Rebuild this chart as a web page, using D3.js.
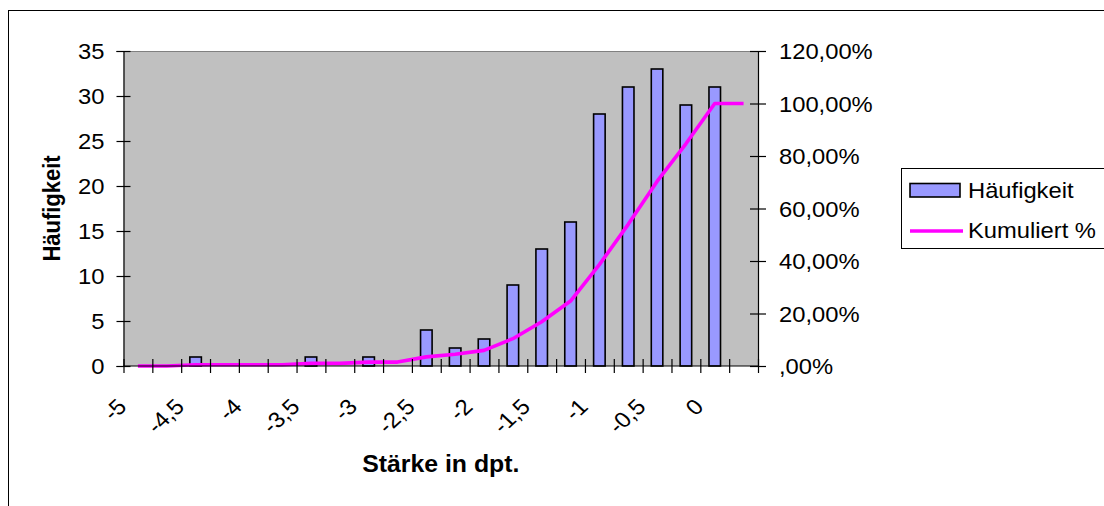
<!DOCTYPE html>
<html>
<head>
<meta charset="utf-8">
<script src="https://cdn.jsdelivr.net/npm/d3@7"></script>
<style>
  html, body { margin: 0; padding: 0; background: #fff; }
  svg { display: block; }
  text { font-family: "Liberation Sans", Arial, sans-serif; fill: #000; }
</style>
</head>
<body>
<script>
// ---- data ----
const categories = [-5, -4.75, -4.5, -4.25, -4, -3.75, -3.5, -3.25, -3, -2.75, -2.5, -2.25,
                    -2, -1.75, -1.5, -1.25, -1, -0.75, -0.5, -0.25, 0, 0.25];
const haeufigkeit = [0, 0, 1, 0, 0, 0, 1, 0, 1, 0, 4, 2, 3, 9, 13, 16, 28, 31, 33, 29, 31, 0];
const kumuliertPct = [0, 0, 0.50, 0.50, 0.50, 0.50, 0.99, 0.99, 1.49, 1.49, 3.47, 4.46,
                      5.94, 10.40, 16.83, 24.75, 38.61, 53.96, 70.30, 84.65, 100, 100];
const xTickLabels = ["-5", "-4,5", "-4", "-3,5", "-3", "-2,5", "-2", "-1,5", "-1", "-0,5", "0"];
const leftTicks = [0, 5, 10, 15, 20, 25, 30, 35];
const rightTicks = [0, 20, 40, 60, 80, 100, 120];
const rightTickLabels = [",00%", "20,00%", "40,00%", "60,00%", "80,00%", "100,00%", "120,00%"];
const seriesNames = ["Häufigkeit", "Kumuliert %"];

// ---- layout ----
const W = 1104, H = 506;
const plot = { left: 123.5, right: 758, top: 51, bottom: 366 };
const FS = 22;
const SX = 1.08; // horizontal stretch of the source picture's text

const svg = d3.select("body").append("svg").attr("width", W).attr("height", H);

// outer chart border
svg.append("rect").attr("x", 8.5).attr("y", 10.5).attr("width", W).attr("height", H)
  .attr("fill", "none").attr("stroke", "#000").attr("stroke-width", 1);

const x = d3.scaleBand().domain(categories).range([plot.left, plot.right]).paddingInner(0).paddingOuter(0);
const yL = d3.scaleLinear().domain([0, 35]).range([plot.bottom, plot.top]);
const yR = d3.scaleLinear().domain([0, 120]).range([plot.bottom, plot.top]);

// plot area
svg.append("rect").attr("x", plot.left).attr("y", plot.top)
  .attr("width", plot.right - plot.left).attr("height", plot.bottom - plot.top)
  .attr("fill", "#C0C0C0");
svg.append("line").attr("x1", plot.left).attr("x2", plot.right)
  .attr("y1", plot.top + 0.5).attr("y2", plot.top + 0.5)
  .attr("stroke", "#808080").attr("stroke-width", 1);

// bars
const bw = x.bandwidth() / 2.5;
svg.append("g").selectAll("rect").data(categories).join("rect")
  .attr("x", (d) => x(d) + (x.bandwidth() - bw) / 2)
  .attr("y", (d, i) => yL(haeufigkeit[i]))
  .attr("width", bw)
  .attr("height", (d, i) => yL(0) - yL(haeufigkeit[i]))
  .attr("fill", "#9999FF").attr("stroke", "#000").attr("stroke-width", 1.6)
  .style("display", (d, i) => haeufigkeit[i] > 0 ? null : "none");

// cumulative line
const line = d3.line()
  .x((d, i) => x(categories[i]) + x.bandwidth() / 2)
  .y((d) => yR(d));
svg.append("path").datum(kumuliertPct).attr("d", line)
  .attr("fill", "none").attr("stroke", "#FF00FF").attr("stroke-width", 3.6)
  .attr("stroke-linejoin", "round");

// left axis
const gL = svg.append("g").attr("transform", `translate(${plot.left},0)`)
  .call(d3.axisLeft(yL).tickValues(leftTicks).tickSize(7).tickFormat(d3.format("d")));
// right axis
const gR = svg.append("g").attr("transform", `translate(${plot.right},0)`)
  .call(d3.axisRight(yR).tickValues(rightTicks).tickSize(8)
    .tickFormat((d, i) => rightTickLabels[i]));
// bottom axis (ticks at category boundaries)
const boundaries = d3.range(categories.length + 1);
const xb = d3.scaleLinear().domain([0, categories.length]).range([plot.left, plot.right]);
const gB = svg.append("g").attr("transform", `translate(0,${plot.bottom})`)
  .call(d3.axisBottom(xb).tickValues(boundaries).tickSize(7).tickFormat(""));

[gL, gR, gB].forEach((g) => {
  g.attr("font-family", null).attr("font-size", null);
  g.select(".domain").attr("stroke", "#000").attr("stroke-width", 1.2);
  g.selectAll(".tick line").attr("stroke", "#000").attr("stroke-width", 1.2);
});
gB.select(".domain").attr("d", `M${plot.left},0H${plot.right}`);
// ticks cross the axis
gL.selectAll(".tick line").attr("x1", 7);
gR.selectAll(".tick line").attr("x1", -8);
gB.selectAll(".tick line").attr("y1", -7);

gL.selectAll(".tick text").attr("font-size", FS).attr("x", 0).attr("dy", "0.35em")
  .attr("transform", `translate(-19,0) scale(${SX},1)`);
gR.selectAll(".tick text").attr("font-size", FS).attr("x", 0).attr("dy", "0.35em")
  .attr("transform", `translate(21,0) scale(${SX},1)`);

// rotated x labels, every second category
svg.append("g").selectAll("text").data(xTickLabels).join("text")
  .attr("transform", (d, i) => {
    const cx = x(categories[i * 2]) + x.bandwidth() / 2 - 10;
    return `translate(${cx},${plot.bottom + 42}) scale(${SX},1) rotate(-45)`;
  })
  .attr("text-anchor", "end").attr("font-size", FS).text((d) => d);

// axis titles
svg.append("text")
  .attr("transform", `translate(${(plot.left + plot.right) / 2},472) scale(${SX},1)`)
  .attr("text-anchor", "middle").attr("font-size", 23).attr("font-weight", "bold")
  .text("Stärke in dpt.");
svg.append("text").attr("transform", `translate(60,${(plot.top + plot.bottom) / 2}) scale(${SX},1) rotate(-90)`)
  .attr("text-anchor", "middle").attr("font-size", 22).attr("font-weight", "bold")
  .text("Häufigkeit");

// legend
const lg = svg.append("g");
lg.append("rect").attr("x", 901.5).attr("y", 168.5).attr("width", 300).attr("height", 80)
  .attr("fill", "#fff").attr("stroke", "#000").attr("stroke-width", 1);
lg.append("rect").attr("x", 910).attr("y", 183.5).attr("width", 50).attr("height", 13.5)
  .attr("fill", "#9999FF").attr("stroke", "#000").attr("stroke-width", 1.6);
lg.append("line").attr("x1", 910).attr("x2", 963).attr("y1", 231).attr("y2", 231)
  .attr("stroke", "#FF00FF").attr("stroke-width", 3.6);
lg.selectAll("text.lt").data(seriesNames).join("text").attr("class", "lt")
  .attr("transform", (d, i) => `translate(968,${198 + i * 40}) scale(${SX},1)`)
  .attr("font-size", FS).text((d) => d);
</script>
</body>
</html>
